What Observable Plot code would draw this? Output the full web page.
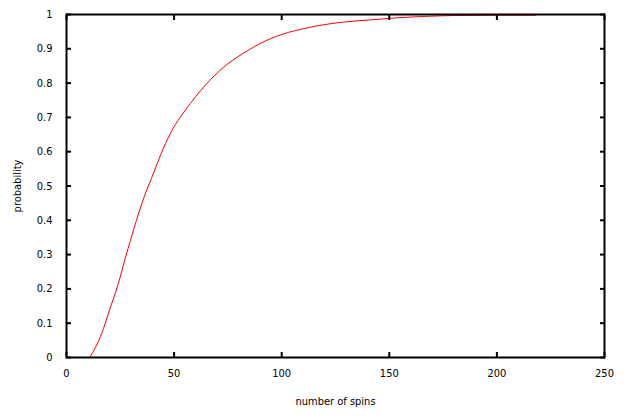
<!DOCTYPE html>
<html>
<head>
<meta charset="utf-8">
<script src="https://cdn.jsdelivr.net/npm/d3@7"></script>
<script src="https://cdn.jsdelivr.net/npm/@observablehq/plot@0.6"></script>
<style>
  html, body { margin: 0; padding: 0; background: #fff; }
  #chart svg { display: block; }
</style>
</head>
<body>
<div id="chart"></div>
<script>
const spins = [10.8, 13.5, 16.6, 18.9, 20.4, 22.8, 25.1, 27.4, 29.7, 31.3, 35.9, 40.6, 43.7, 48.3, 53.0, 57.6, 62.3, 66.9, 74.7, 84, 90.1, 100.2, 111.8, 127.3, 142.8, 150.6, 164.5, 173.8, 180, 200, 218];
const probability = [0, 0.030, 0.074, 0.117, 0.146, 0.190, 0.238, 0.292, 0.341, 0.375, 0.465, 0.540, 0.590, 0.654, 0.702, 0.741, 0.778, 0.810, 0.855, 0.894, 0.916, 0.942, 0.961, 0.977, 0.985, 0.989, 0.994, 0.996, 0.997, 0.998, 0.998];
const xTicks = [0, 50, 100, 150, 200, 250];
const yTicks = [0, 0.1, 0.2, 0.3, 0.4, 0.5, 0.6, 0.7, 0.8, 0.9, 1];

const data = spins.map((s, i) => ({spins: s, probability: probability[i]}));
const font = "'Liberation Sans Narrow', 'DejaVu Sans Condensed', 'DejaVu Sans Mono', sans-serif";
const blank = () => "";

const chart = Plot.plot({
  width: 631,
  height: 419,
  marginLeft: 66,
  marginRight: 27,
  marginTop: 14,
  marginBottom: 62,
  style: {fontFamily: font, fontSize: "11px", color: "#000", background: "#fff"},
  x: {domain: [0, 250]},
  y: {domain: [0, 1]},
  marks: [
    Plot.line(data, {x: "spins", y: "probability", stroke: "#ff0000", strokeWidth: 1, curve: "monotone-x"}),
    // inward ticks on all four sides
    Plot.axisX({anchor: "bottom", ticks: xTicks, tickSize: -5, tickFormat: blank, label: null, strokeWidth: 2}),
    Plot.axisX({anchor: "top", ticks: xTicks, tickSize: -5, tickFormat: blank, label: null, strokeWidth: 2}),
    Plot.axisY({anchor: "left", ticks: yTicks, tickSize: -5, tickFormat: blank, label: null, strokeWidth: 2}),
    Plot.axisY({anchor: "right", ticks: yTicks, tickSize: -5, tickFormat: blank, label: null, strokeWidth: 2}),
    // labels
    Plot.axisX({anchor: "bottom", ticks: xTicks, tickSize: 0, tickPadding: 12, tickFormat: d => String(d),
      label: "number of spins", labelAnchor: "center", labelArrow: "none", labelOffset: 47}),
    Plot.axisY({anchor: "left", ticks: yTicks, tickSize: 0, tickPadding: 14, tickFormat: d => String(d),
      label: "probability", labelAnchor: "center", labelArrow: "none", labelOffset: 53}),
    Plot.frame({stroke: "#000", strokeWidth: 2})
  ]
});
document.getElementById("chart").appendChild(chart);
</script>
</body>
</html>
